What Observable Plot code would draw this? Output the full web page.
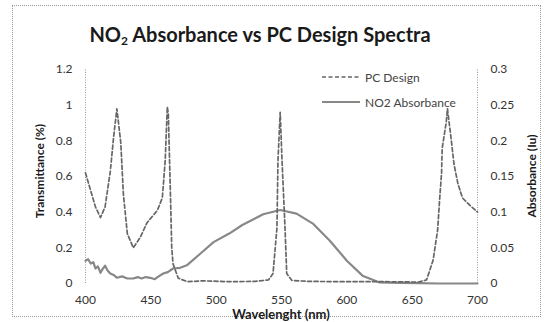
<!DOCTYPE html>
<html>
<head>
<meta charset="utf-8">
<script src="https://cdn.jsdelivr.net/npm/d3@7"></script>
<script src="https://cdn.jsdelivr.net/npm/@observablehq/plot@0.6"></script>
<style>
  html, body { margin: 0; padding: 0; background: #fff; }
  #wrap { position: relative; width: 544px; height: 322px; overflow: hidden; font-family: Lato, "Open Sans", sans-serif; }
  #frame { position: absolute; left: 12px; top: 5px; width: 529px; height: 312px; border: 1px dotted #9a9a9a; box-sizing: border-box; }
  .abs { position: absolute; white-space: nowrap; }
  #title { left: 0; width: 520px; top: 24px; text-align: center; font-weight: bold; font-size: 20px; line-height: 20px; color: #1a1a1a; }
  #title sub { font-size: 12px; vertical-align: -3px; line-height: 0; }
  .ytitle { font-weight: bold; font-size: 12px; color: #1a1a1a; transform: translate(-50%, -50%) rotate(-90deg); line-height: 14px; }
  #xtitle { left: 281px; top: 314px; transform: translate(-50%, -50%); font-weight: bold; font-size: 13px; color: #1a1a1a; }
  .leg { font-size: 12px; color: #444; display: flex; align-items: center; }
  .leg svg { margin-right: 5px; }
  #plot { position: absolute; left: 0; top: 0; }
</style>
</head>
<body>
<div id="wrap">
  <div id="frame"></div>
  <div id="plot"></div>
  <div class="abs" id="title">NO<sub>2</sub> Absorbance vs PC Design Spectra</div>
  <div class="abs ytitle" style="left:40px; top:171px;">Transmittance (%)</div>
  <div class="abs ytitle" style="left:532px; top:176px;">Absorbance (Iu)</div>
  <div class="abs" id="xtitle">Wavelenght (nm)</div>
  <div class="abs leg" style="left:322px; top:69px;"><svg width="38" height="16"><line x1="0" y1="8" x2="38" y2="8" stroke="#666" stroke-width="1.6" stroke-dasharray="4,2.5"/></svg>PC Design</div>
  <div class="abs leg" style="left:322px; top:94px;"><svg width="38" height="16"><line x1="0" y1="8" x2="38" y2="8" stroke="#888" stroke-width="2"/></svg>NO2 Absorbance</div>
</div>
<script>
// PC Design transmittance (left axis)
const pcWavelength = [400,404,407.6,411.5,415,419,421.5,424,427,429,432,436.6,442,447,455,458.8,461,462.6,463.4,465,466,467,471,478,490,510,530,540,543.5,546.5,547.3,549,550.4,552.7,554,558,570,600,630,655,661,666,669.5,671,672.5,673,676,677,680,682,685,688.5,694,700];
const pcTransmittance = [0.62,0.52,0.43,0.37,0.43,0.63,0.82,0.98,0.79,0.5,0.28,0.2,0.26,0.34,0.41,0.48,0.69,0.99,0.95,0.5,0.2,0.11,0.03,0.01,0.015,0.01,0.012,0.02,0.056,0.31,0.69,0.96,0.69,0.31,0.056,0.017,0.012,0.01,0.01,0.008,0.02,0.13,0.3,0.47,0.62,0.76,0.9,0.98,0.8,0.67,0.56,0.48,0.44,0.40];

// NO2 absorbance (right axis)
const no2Wavelength = [400,402,404,406,407.6,409.5,411.5,413,415,417,419,421.5,424,428,432,436.6,440,443,446,449.6,453,456,459.5,463,467,472.5,478,488,498,510,520,536,549,561.5,574,587,600,612,625,640,655,670,685,700];
const no2Absorbance = [0.032,0.034,0.028,0.030,0.021,0.024,0.015,0.020,0.025,0.018,0.014,0.012,0.008,0.010,0.007,0.007,0.009,0.007,0.009,0.008,0.006,0.010,0.014,0.016,0.021,0.022,0.026,0.042,0.058,0.070,0.082,0.097,0.103,0.098,0.084,0.06,0.032,0.011,0.0015,0.001,0.0005,0,0,0];

const xTicks = [400,450,500,550,600,650,700];
const leftTicks = [0,0.2,0.4,0.6,0.8,1,1.2];
const rightTickLabels = ["0","0.05","0.1","0.15","0.2","0.25","0.3"];
const axisRatio = 4; // right axis max 0.3 vs left 1.2

const pc = pcWavelength.map((w, i) => ({wl: w, t: pcTransmittance[i]}));
const no2 = no2Wavelength.map((w, i) => ({wl: w, a: no2Absorbance[i]}));

const chart = Plot.plot({
  width: 544,
  height: 322,
  marginLeft: 85,
  marginRight: 67,
  marginTop: 69,
  marginBottom: 39,
  x: {domain: [400, 700]},
  y: {domain: [0, 1.2]},
  style: {fontFamily: "Lato, 'Open Sans', sans-serif", fontSize: "12px", color: "#333", background: "transparent", overflow: "visible"},
  marks: [
    Plot.ruleX([400, 700], {y1: 0, y2: 1.2, stroke: "#999", strokeDasharray: "1,1.5"}),
    Plot.axisX({ticks: xTicks, tickSize: 0, tickPadding: 12, label: null, tickFormat: d => String(d)}),
    Plot.axisY({ticks: leftTicks, tickSize: 0, tickPadding: 13, label: null, tickFormat: d => String(d)}),
    Plot.axisY({anchor: "right", ticks: leftTicks, tickSize: 0, tickPadding: 13, label: null,
      tickFormat: d => rightTickLabels[Math.round(d / 0.2)]}),
    Plot.line(no2, {x: "wl", y: d => d.a * axisRatio, stroke: "#888", strokeWidth: 2.2}),
    Plot.line(pc, {x: "wl", y: "t", stroke: "#666", strokeWidth: 1.7, strokeDasharray: "4,2.5"})
  ]
});
document.getElementById("plot").appendChild(chart);
</script>
</body>
</html>
